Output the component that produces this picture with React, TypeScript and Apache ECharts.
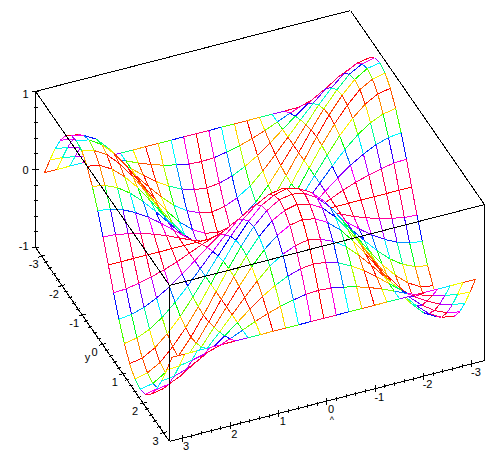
import React, { useEffect, useRef } from "react";
import * as echarts from "echarts";

const xNodes = [-3.14, -2.88, -2.62, -2.36, -2.09, -1.83, -1.57, -1.31, -1.05, -0.79, -0.52, -0.26, 0, 0.26, 0.52, 0.79, 1.05, 1.31, 1.57, 1.83, 2.09, 2.36, 2.62, 2.88, 3.14];
const yNodes = xNodes;

const row00 = [0, 0.26, 0.5, 0.71, 0.87, 0.97, 1, 0.97, 0.87, 0.71, 0.5, 0.26, 0, -0.26, -0.5, -0.71, -0.87, -0.97, -1, -0.97, -0.87, -0.71, -0.5, -0.26, 0];
const row01 = [0, 0.25, 0.48, 0.68, 0.84, 0.93, 0.97, 0.93, 0.84, 0.68, 0.48, 0.25, 0, -0.25, -0.48, -0.68, -0.84, -0.93, -0.97, -0.93, -0.84, -0.68, -0.48, -0.25, 0];
const row02 = [0, 0.22, 0.43, 0.61, 0.75, 0.84, 0.87, 0.84, 0.75, 0.61, 0.43, 0.22, 0, -0.22, -0.43, -0.61, -0.75, -0.84, -0.87, -0.84, -0.75, -0.61, -0.43, -0.22, 0];
const row03 = [0, 0.18, 0.35, 0.5, 0.61, 0.68, 0.71, 0.68, 0.61, 0.5, 0.35, 0.18, 0, -0.18, -0.35, -0.5, -0.61, -0.68, -0.71, -0.68, -0.61, -0.5, -0.35, -0.18, 0];
const row04 = [0, 0.13, 0.25, 0.35, 0.43, 0.48, 0.5, 0.48, 0.43, 0.35, 0.25, 0.13, 0, -0.13, -0.25, -0.35, -0.43, -0.48, -0.5, -0.48, -0.43, -0.35, -0.25, -0.13, 0];
const row05 = [0, 0.07, 0.13, 0.18, 0.22, 0.25, 0.26, 0.25, 0.22, 0.18, 0.13, 0.07, 0, -0.07, -0.13, -0.18, -0.22, -0.25, -0.26, -0.25, -0.22, -0.18, -0.13, -0.07, 0];
const row06 = [0, 0, 0, 0, 0, 0, 0, 0, 0, 0, 0, 0, 0, 0, 0, 0, 0, 0, 0, 0, 0, 0, 0, 0, 0];
const row07 = [0, -0.07, -0.13, -0.18, -0.22, -0.25, -0.26, -0.25, -0.22, -0.18, -0.13, -0.07, 0, 0.07, 0.13, 0.18, 0.22, 0.25, 0.26, 0.25, 0.22, 0.18, 0.13, 0.07, 0];
const row08 = [0, -0.13, -0.25, -0.35, -0.43, -0.48, -0.5, -0.48, -0.43, -0.35, -0.25, -0.13, 0, 0.13, 0.25, 0.35, 0.43, 0.48, 0.5, 0.48, 0.43, 0.35, 0.25, 0.13, 0];
const row09 = [0, -0.18, -0.35, -0.5, -0.61, -0.68, -0.71, -0.68, -0.61, -0.5, -0.35, -0.18, 0, 0.18, 0.35, 0.5, 0.61, 0.68, 0.71, 0.68, 0.61, 0.5, 0.35, 0.18, 0];
const row10 = [0, -0.22, -0.43, -0.61, -0.75, -0.84, -0.87, -0.84, -0.75, -0.61, -0.43, -0.22, 0, 0.22, 0.43, 0.61, 0.75, 0.84, 0.87, 0.84, 0.75, 0.61, 0.43, 0.22, 0];
const row11 = [0, -0.25, -0.48, -0.68, -0.84, -0.93, -0.97, -0.93, -0.84, -0.68, -0.48, -0.25, 0, 0.25, 0.48, 0.68, 0.84, 0.93, 0.97, 0.93, 0.84, 0.68, 0.48, 0.25, 0];
const row12 = [0, -0.26, -0.5, -0.71, -0.87, -0.97, -1, -0.97, -0.87, -0.71, -0.5, -0.26, 0, 0.26, 0.5, 0.71, 0.87, 0.97, 1, 0.97, 0.87, 0.71, 0.5, 0.26, 0];
const zRows = [row00, row01, row02, row03, row04, row05, row06, row07, row08, row09, row10, row11, row12, row11, row10, row09, row08, row07, row06, row05, row04, row03, row02, row01, row00];

const xTickLabels = [-3, -2, -1, 0, 1, 2, 3];
const yTickLabels = [-3, -2, -1, 0, 1, 2, 3];
const zTickLabels = [-1, 0, 1];

// view: screen position of the box centre and the screen vector of one data unit
const centre = [260, 226];
const unitX = [-48.3, 12.4];
const unitY = [20.3, 29.4];
const unitZ = [0, -78];
const boxX = 3.26;
const boxY = 3.3;

const project = (x: number, y: number, z: number) => [
  centre[0] + x * unitX[0] + y * unitY[0] + z * unitZ[0],
  centre[1] + x * unitX[1] + y * unitY[1] + z * unitZ[1],
];

const hueAt = (i: number, j: number) => 180 * (1 + Math.cos(xNodes[i] * yNodes[j]));
const hsl = (h: number) => `hsl(${((h % 360) + 360) % 360},100%,50%)`;

type Seg = [number, number, number, number, number, number, number];

function buildBoxSegments(): Seg[] {
  const c = (sx: number, sy: number, z: number) => [sx * boxX, sy * boxY, z];
  const edges = [
    [c(1, -1, -1), c(1, -1, 1)],
    [c(1, 1, -1), c(1, 1, 1)],
    [c(-1, 1, -1), c(-1, 1, 1)],
    [c(1, -1, 1), c(-1, -1, 1)],
    [c(-1, -1, 1), c(-1, 1, 1)],
    [c(-1, 1, 1), c(1, 1, 1)],
    [c(1, 1, 1), c(1, -1, 1)],
    [c(1, 1, -1), c(-1, 1, -1)],
    [c(1, -1, -1), c(1, 1, -1)],
  ];
  return edges.map(([a, b]) => [a[0], a[1], a[2], b[0], b[1], b[2], 0] as Seg);
}

function buildTicks(): number[][] {
  const out: number[][] = [];
  for (let n = -15; n <= 15; n++) {
    const v = n / 5;
    const major = n % 5 === 0 ? 1 : 0;
    out.push([0, v, major]);
    out.push([1, v, major]);
  }
  for (let n = -5; n <= 5; n++) out.push([2, n / 5, n % 5 === 0 ? 1 : 0]);
  return out;
}

export default function App() {
  const ref = useRef<HTMLDivElement>(null);
  useEffect(() => {
    const chart = echarts.init(ref.current!, undefined, { renderer: "svg" });
    // cells back to front, so that nearer cells hide what lies behind them
    const cellData: number[][] = [];
    for (let i = 0; i < 24; i++) for (let j = 0; j < 24; j++) cellData.push([i, j]);
    const toPx = (api: any, p: number[]) => api.coord(p);
    chart.setOption({
      animation: false,
      backgroundColor: "#ffffff",
      grid: { left: 0, right: 0, top: 0, bottom: 0 },
      xAxis: { type: "value", min: 0, max: 503, show: false },
      yAxis: { type: "value", min: 0, max: 469, inverse: true, show: false },
      tooltip: { show: false },
      series: [
        {
          type: "custom",
          coordinateSystem: "cartesian2d",
          silent: true,
          clip: false,
          data: cellData,
          renderItem: (_: any, api: any) => {
            const i = api.value(0), j = api.value(1);
            const corners = [
              [i, j],
              [i, j + 1],
              [i + 1, j + 1],
              [i + 1, j],
            ];
            const pts = corners.map(([a, b]) => toPx(api, project(xNodes[a], yNodes[b], zRows[a][b])));
            const children: any[] = [
              { type: "polygon", shape: { points: pts }, style: { fill: "#ffffff", stroke: "none" } },
            ];
            for (let k = 0; k < 4; k++) {
              const n = (k + 1) % 4;
              const h = (hueAt(corners[k][0], corners[k][1]) + hueAt(corners[n][0], corners[n][1])) / 2;
              children.push({
                type: "line",
                shape: { x1: pts[k][0], y1: pts[k][1], x2: pts[n][0], y2: pts[n][1] },
                style: { stroke: hsl(h), lineWidth: 1, fill: "none" },
              });
            }
            return { type: "group", children };
          },
        },
        {
          type: "custom",
          coordinateSystem: "cartesian2d",
          silent: true,
          clip: false,
          data: buildBoxSegments(),
          renderItem: (_: any, api: any) => {
            const a = toPx(api, project(api.value(0), api.value(1), api.value(2)));
            const b = toPx(api, project(api.value(3), api.value(4), api.value(5)));
            return {
              type: "line",
              shape: { x1: a[0], y1: a[1], x2: b[0], y2: b[1] },
              style: { stroke: "#000000", lineWidth: 1, fill: "none" },
            };
          },
        },
        {
          type: "custom",
          coordinateSystem: "cartesian2d",
          silent: true,
          clip: false,
          data: buildTicks(),
          renderItem: (_: any, api: any) => {
            const axis = api.value(0), v = api.value(1), major = api.value(2);
            const len = major ? 3.5 : 2;
            let p: number[];
            let dx = 0, dy = 0;
            if (axis === 0) {
              p = project(v, boxY, -1);
              dx = 0;
              dy = len;
            } else if (axis === 1) {
              p = project(boxX, v, -1);
              dx = len;
              dy = -len * 0.26;
            } else {
              p = project(boxX, -boxY, v);
              dx = len;
              dy = 0;
            }
            const a = toPx(api, [p[0] - dx, p[1] - dy]);
            const b = toPx(api, [p[0] + dx, p[1] + dy]);
            return {
              type: "line",
              shape: { x1: a[0], y1: a[1], x2: b[0], y2: b[1] },
              style: { stroke: "#000000", lineWidth: 1, fill: "none" },
            };
          },
        },
        {
          type: "custom",
          coordinateSystem: "cartesian2d",
          silent: true,
          clip: false,
          data: [
            ...xTickLabels.map((v) => [0, v]),
            ...yTickLabels.map((v) => [1, v]),
            ...zTickLabels.map((v) => [2, v]),
            [3, 0],
            [4, 0],
          ],
          renderItem: (_: any, api: any) => {
            const axis = api.value(0), v = api.value(1);
            let p: number[];
            let text = String(v);
            let align = "center";
            let size = 11;
            if (axis === 0) {
              const q = project(v, boxY, -1);
              p = [q[0] + 4, q[1] + 8];
            } else if (axis === 1) {
              const q = project(boxX, v, -1);
              p = [q[0] - 8, q[1] + 8];
            } else if (axis === 2) {
              const q = project(boxX, -boxY, v);
              p = [q[0] - 7, q[1] + 1 + v * 2];
              align = "right";
            } else if (axis === 3) {
              const q = project(0, boxY, -1);
              p = [q[0] + 5, q[1] + 19];
              text = "^";
              size = 9;
            } else {
              const q = project(boxX, 0, -1);
              p = [q[0] - 15, q[1] + 13];
              text = "y";
            }
            const c = toPx(api, p);
            return {
              type: "text",
              style: {
                x: c[0],
                y: c[1],
                text,
                fill: "#000000",
                font: `${size}px "Liberation Sans", Arial, sans-serif`,
                align,
                verticalAlign: "middle",
              },
            };
          },
        },
      ],
    });
    return () => chart.dispose();
  }, []);
  return (
    <>
      <style>{`html,body{margin:0;background:#fff} svg line, svg path{shape-rendering:crispEdges}`}</style>
      <div ref={ref} style={{ position: "fixed", left: 0, top: 0, width: 503, height: 469 }} />
    </>
  );
}
